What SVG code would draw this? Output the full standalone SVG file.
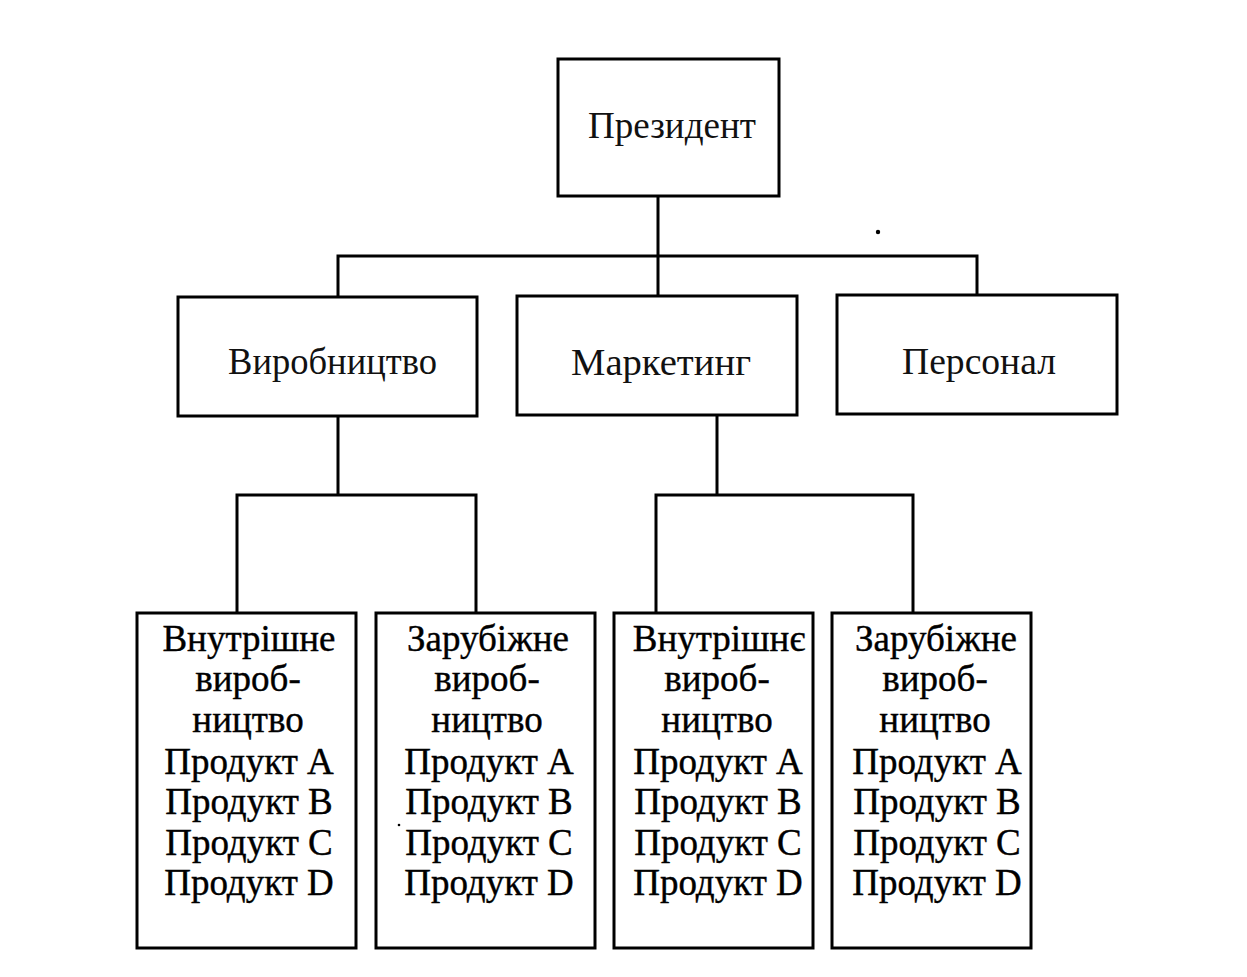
<svg xmlns="http://www.w3.org/2000/svg" width="1247" height="977" viewBox="0 0 1247 977">
<style>
.box{fill:#fff;stroke:#000;stroke-width:3}
.ln{fill:none;stroke:#000;stroke-width:3;stroke-linecap:square}
.t{font-family:"Liberation Serif","Times New Roman",serif;font-size:37px;fill:#000;stroke:#000;stroke-width:0.4;text-anchor:middle}
.m{font-family:"Liberation Serif","Times New Roman",serif;font-size:37px;fill:#111;text-anchor:middle}
</style>
<rect width="1247" height="977" fill="#fff"/>
<g id="connectors">
<path class="ln" d="M658,196 V256 M338,256 H977 M338,256 V297 M658,256 V296 M977,256 V295"/>
<path class="ln" d="M338,416 V495 M237,495 H476 M237,495 V613 M476,495 V613"/>
<path class="ln" d="M717,415 V495 M656,495 H913 M656,495 V613 M913,495 V613"/>
</g>
<g id="president">
<rect class="box" x="558" y="59" width="221" height="137"/>
<text class="m" x="672" y="138" textLength="168" lengthAdjust="spacingAndGlyphs">Президент</text>
</g>
<g id="production">
<rect class="box" x="178" y="297" width="299" height="119"/>
<text class="m" x="332.5" y="374" textLength="209" lengthAdjust="spacingAndGlyphs">Виробництво</text>
</g>
<g id="marketing">
<rect class="box" x="517" y="296" width="280" height="119"/>
<text class="m" x="661" y="375" textLength="180" lengthAdjust="spacingAndGlyphs">Маркетинг</text>
</g>
<g id="personnel">
<rect class="box" x="837" y="295" width="280" height="119"/>
<text class="m" x="979" y="374" textLength="154" lengthAdjust="spacingAndGlyphs">Персонал</text>
</g>
<g id="prod-domestic">
<rect class="box" x="137" y="613" width="219" height="335"/>
<text class="t" x="249" y="651">Внутрішне</text>
<text class="t" x="248" y="691">вироб-</text>
<text class="t" x="248" y="732">ництво</text>
<text class="t" x="249" y="774">Продукт A</text>
<text class="t" x="249" y="814">Продукт B</text>
<text class="t" x="249" y="855">Продукт C</text>
<text class="t" x="249" y="895">Продукт D</text>
</g>
<g id="prod-foreign">
<rect class="box" x="376" y="613" width="219" height="335"/>
<text class="t" x="488" y="651">Зарубіжне</text>
<text class="t" x="487" y="691">вироб-</text>
<text class="t" x="487" y="732">ництво</text>
<text class="t" x="489" y="774">Продукт A</text>
<text class="t" x="489" y="814">Продукт B</text>
<text class="t" x="489" y="855">Продукт C</text>
<text class="t" x="489" y="895">Продукт D</text>
</g>
<g id="mkt-domestic">
<rect class="box" x="614" y="613" width="199" height="335"/>
<text class="t" x="719" y="651">Внутрішнє</text>
<text class="t" x="717" y="691">вироб-</text>
<text class="t" x="717" y="732">ництво</text>
<text class="t" x="718" y="774">Продукт A</text>
<text class="t" x="718" y="814">Продукт B</text>
<text class="t" x="718" y="855">Продукт C</text>
<text class="t" x="718" y="895">Продукт D</text>
</g>
<g id="mkt-foreign">
<rect class="box" x="832" y="613" width="199" height="335"/>
<text class="t" x="936" y="651">Зарубіжне</text>
<text class="t" x="935" y="691">вироб-</text>
<text class="t" x="935" y="732">ництво</text>
<text class="t" x="937" y="774">Продукт A</text>
<text class="t" x="937" y="814">Продукт B</text>
<text class="t" x="937" y="855">Продукт C</text>
<text class="t" x="937" y="895">Продукт D</text>
</g>
<circle cx="878" cy="232" r="2.2" fill="#000"/>
<circle cx="399" cy="825" r="1.3" fill="#000"/>
</svg>
